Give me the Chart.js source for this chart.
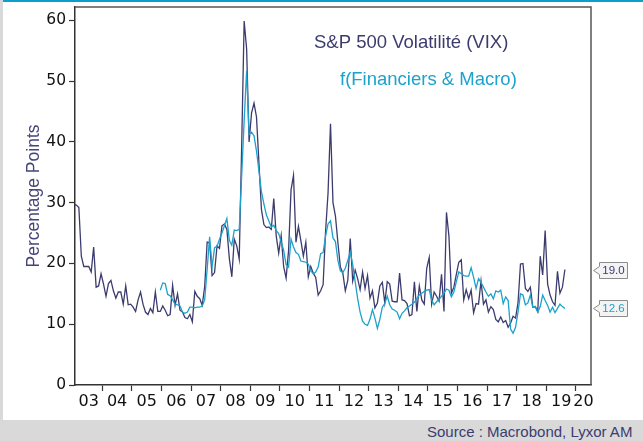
<!DOCTYPE html>
<html>
<head>
<meta charset="utf-8">
<script src="https://cdn.jsdelivr.net/npm/chart.js@4.4.1/dist/chart.umd.min.js"></script>
<style>
  body { margin: 0; background: #fff; }
  #wrap { position: relative; width: 643px; height: 441px; overflow: hidden; background: #fff; }
  .strip { position: absolute; left: 0; top: 0; width: 3px; height: 441px; background: #d9d9d9; }
  .topbar { position: absolute; left: 3px; top: 0; width: 640px; height: 2px; background: #0b9fc9; }
  .source { position: absolute; left: 0; top: 420px; width: 643px; height: 21px; background: #d9d9d9;
            font: 15px "Liberation Sans", Arial, sans-serif; color: #3d3c6f; line-height: 21px; white-space: nowrap; }
  .source span { position: absolute; left: 427px; top: 1px; }
  canvas { position: absolute; left: 0; top: 0; }
</style>
</head>
<body>
<div id="wrap">
  <div class="strip"></div>
  <div class="topbar"></div>
  <div class="source"><span>Source : Macrobond, Lyxor AM</span></div>
  <canvas id="chart" width="643" height="441"></canvas>
</div>
<script>
// monthly values, first one is the month given in *Start
const vixStart = { year: 2003, month: 1 };
const vixValues = [
  29.7, 29.6, 29.2, 21.2, 19.5, 19.5, 19.5, 18.6, 22.7, 16.1, 16.3, 18.3,
  16.6, 14.6, 16.7, 17.2, 15.5, 14.3, 15.3, 15.3, 13.3, 16.3, 13.2, 13.3,
  12.8, 12.1, 14.0, 15.3, 13.3, 12.0, 11.6, 12.6, 11.9, 15.3, 12.1, 12.1,
  13.0, 12.3, 11.4, 11.6, 16.4, 13.1, 15.0, 12.3, 12.0, 11.1, 10.9, 11.6,
  10.4, 15.4, 14.6, 14.2, 13.1, 16.2, 23.5, 23.4, 18.0, 18.5, 22.9, 22.5,
  26.2, 26.5, 25.6, 20.8, 17.8, 24.0, 22.9, 20.7, 39.4, 59.9, 55.3, 40.0,
  44.8, 46.4, 44.1, 36.5, 28.9, 26.4, 25.9, 26.0, 25.6, 30.7, 24.5, 21.7,
  24.6, 19.5, 17.6, 22.1, 32.1, 34.5, 23.5, 26.1, 23.7, 21.2, 23.5, 17.8,
  19.5, 18.4, 17.7, 14.8, 15.5, 16.5, 25.3, 31.6, 43.0, 30.0, 27.8, 23.4,
  19.4, 18.4, 15.5, 17.2, 24.1, 17.1, 18.9, 17.5, 15.7, 18.6, 15.9, 18.0,
  14.3, 15.5, 12.7, 13.5, 16.3, 16.9, 13.5, 17.0, 16.6, 13.8, 13.7, 13.7,
  18.4, 14.0, 13.9, 13.4, 11.4, 11.6, 17.0, 12.1, 16.3, 14.0, 13.3, 19.2,
  21.0, 13.3, 15.3, 14.6, 13.8, 18.2, 12.1, 28.4, 24.5, 15.1, 16.1, 18.2,
  20.2, 20.6, 14.0, 15.7, 14.2, 15.6, 11.9, 13.4, 13.3, 17.1, 13.3, 14.0,
  12.0, 12.9, 12.4, 10.8, 10.4, 11.2, 10.3, 10.6, 9.5, 10.2, 11.3, 11.0,
  13.5, 19.9, 20.0, 15.9, 15.4, 16.1, 12.8, 12.9, 12.1, 21.2, 18.1, 25.4,
  16.6, 14.8, 13.7, 13.1, 18.7, 15.1, 16.1, 19.0
];
const finStart = { year: 2005, month: 12 };
const finValues = [
  15.6,
  16.8, 16.7, 14.9, 14.7, 14.0, 13.3, 13.2, 13.0, 12.0, 11.8, 12.0, 12.8,
  12.8, 12.7, 12.8, 12.8, 13.0, 14.0, 19.0, 24.4, 19.4, 22.6, 22.8, 24.0,
  25.0, 26.2, 27.4, 23.8, 23.0, 25.5, 25.4, 25.6, 34.5, 43.5, 51.7, 41.2,
  41.6, 41.0, 38.5, 35.2, 31.8, 29.8, 28.0, 27.0, 26.0, 26.3, 25.4, 24.9,
  23.5, 22.2, 19.8, 19.4, 24.0, 22.7, 21.8, 21.5, 20.4, 20.3, 20.2, 19.9,
  18.8, 18.3, 18.6, 19.4, 21.6, 21.8, 24.5, 26.5, 27.0, 24.2, 23.6, 20.5,
  18.8, 18.5, 19.2, 20.5, 21.9, 19.8, 17.0, 14.2, 12.0, 10.5, 10.0, 9.8,
  10.8, 12.4, 11.0, 9.3, 10.8, 12.8, 13.4, 14.6, 13.2, 12.5, 12.3, 12.0,
  10.9, 11.8, 12.2, 12.7, 13.0, 13.3, 13.6, 14.2, 14.8, 15.1, 15.4, 15.6,
  15.7, 14.0, 13.2, 13.7, 14.1, 14.6, 15.1, 15.8, 15.6, 14.5, 15.3, 17.0,
  18.6, 18.3, 18.0, 17.9, 17.9, 19.3, 17.7, 15.9, 17.5, 16.9, 16.1, 15.3,
  14.6, 15.0, 14.2, 15.5, 15.3, 15.6, 13.4, 14.5, 13.9, 9.2, 8.5, 9.5,
  12.0, 15.0, 14.8, 13.2, 13.5, 14.8, 12.8, 12.9, 12.0, 12.9, 14.8, 13.9,
  13.1, 12.0, 12.8, 11.9, 12.6, 13.3, 12.9, 12.6
];
const firstYear = 2003;
const yearLabels = ['03', '04', '05', '06', '07', '08', '09', '10', '11', '12', '13', '14', '15', '16', '17', '18', '19', '20'];
const yTicks = [0, 10, 20, 30, 40, 50, 60];
const xMin = 2003.078, xMax = 2020.507;
const yMax = 62.2;

const navy = '#3c3b6e';
const teal = '#1ca2cc';

function monthlyPoints(start, values) {
  return values.map((v, i) => ({ x: start.year + (start.month - 1 + i + 0.5) / 12, y: v }));
}

// frame, in-plot titles and the last-value tags on the right
const decorations = {
  id: 'decorations',
  afterDraw(chart) {
    const { ctx, chartArea: a, scales } = chart;
    ctx.save();
    ctx.strokeStyle = '#555';
    ctx.lineWidth = 1.5;
    ctx.beginPath();
    ctx.moveTo(a.left, a.top);
    ctx.lineTo(a.right, a.top);
    ctx.lineTo(a.right, a.bottom);
    ctx.stroke();

    ctx.font = '18.5px "Liberation Sans", Arial, sans-serif';
    ctx.textBaseline = 'alphabetic';
    ctx.textAlign = 'left';
    ctx.fillStyle = navy;
    ctx.fillText('S&P 500 Volatilité (VIX)', 314, 48);
    ctx.fillStyle = teal;
    ctx.fillText('f(Financiers & Macro)', 340, 85);

    const tags = [
      [vixValues[vixValues.length - 1], navy],
      [finValues[finValues.length - 1], teal]
    ];
    tags.forEach(([v, color]) => {
      const y = Math.round(scales.y.getPixelForValue(v)) + 0.5;
      const x = a.right + 2.5, tip = 6, w = 28, h = 16;
      ctx.beginPath();
      ctx.moveTo(x, y);
      ctx.lineTo(x + tip, y - 4);
      ctx.lineTo(x + tip, y - h / 2);
      ctx.lineTo(x + tip + w, y - h / 2);
      ctx.lineTo(x + tip + w, y + h / 2);
      ctx.lineTo(x + tip, y + h / 2);
      ctx.lineTo(x + tip, y + 4);
      ctx.closePath();
      ctx.fillStyle = '#f3f3f3';
      ctx.fill();
      ctx.strokeStyle = '#8c8c8c';
      ctx.lineWidth = 1;
      ctx.stroke();
      ctx.font = '11.5px "Liberation Sans", Arial, sans-serif';
      ctx.fillStyle = color;
      ctx.textAlign = 'center';
      ctx.textBaseline = 'middle';
      ctx.fillText(v.toFixed(1), x + tip + w / 2, y + 0.5);
    });
    ctx.restore();
  }
};

new Chart(document.getElementById('chart'), {
  type: 'line',
  data: {
    datasets: [
      {
        label: 'f(Financiers & Macro)',
        data: monthlyPoints(finStart, finValues),
        borderColor: teal,
        borderWidth: 1.3,
        pointRadius: 0,
        tension: 0
      },
      {
        label: 'S&P 500 Volatilité (VIX)',
        data: monthlyPoints(vixStart, vixValues),
        borderColor: navy,
        borderWidth: 1.3,
        pointRadius: 0,
        tension: 0
      }
    ]
  },
  options: {
    responsive: false,
    devicePixelRatio: 1,
    animation: false,
    parsing: true,
    layout: { padding: { left: 0, top: 7, right: 52, bottom: 0 } },
    plugins: { legend: { display: false }, tooltip: { enabled: false } },
    scales: {
      x: {
        type: 'linear',
        min: xMin,
        max: xMax,
        afterBuildTicks(scale) {
          const t = [];
          for (let y = firstYear + 1; y <= firstYear + yearLabels.length - 1; y++) t.push({ value: y });
          yearLabels.forEach((lab, i) => {
            const y0 = Math.max(firstYear + i, xMin);
            const y1 = Math.min(firstYear + i + 1, xMax);
            t.push({ value: (y0 + y1) / 2 });
          });
          t.sort((a, b) => a.value - b.value);
          scale.ticks = t;
        },
        afterFit(scale) {
          scale.height = 56;
          scale.paddingLeft = 0;
          scale.paddingRight = 0;
        },
        ticks: {
          autoSkip: false,
          maxRotation: 0,
          padding: 1,
          color: '#111',
          font: { family: '"DejaVu Sans", sans-serif', size: 16 },
          callback(value) {
            if (Number.isInteger(value)) return '';
            return yearLabels[Math.floor(value) - firstYear];
          }
        },
        grid: {
          drawOnChartArea: false,
          tickLength: 6,
          tickWidth: 1.2,
          tickColor: ctx => (ctx.tick && Number.isInteger(ctx.tick.value)) ? '#333' : 'rgba(0,0,0,0)'
        },
        border: { display: true, color: '#333', width: 1.5 }
      },
      y: {
        type: 'linear',
        min: 0,
        max: yMax,
        afterBuildTicks(scale) {
          scale.ticks = yTicks.map(v => ({ value: v }));
        },
        afterFit(scale) {
          scale.width = 75;
          scale.paddingTop = 0;
          scale.paddingBottom = 0;
        },
        ticks: {
          padding: 3,
          color: '#111',
          font: { family: '"DejaVu Sans", sans-serif', size: 15.5 }
        },
        grid: { drawOnChartArea: false, tickLength: 6, tickWidth: 1.2, tickColor: '#333' },
        border: { display: true, color: '#333', width: 1.5 },
        title: {
          display: true,
          text: 'Percentage Points',
          color: '#46457a',
          font: { family: '"Liberation Sans", Arial, sans-serif', size: 17.5 },
          padding: { top: 24, bottom: 0 }
        }
      }
    }
  },
  plugins: [decorations]
});
</script>
</body>
</html>
